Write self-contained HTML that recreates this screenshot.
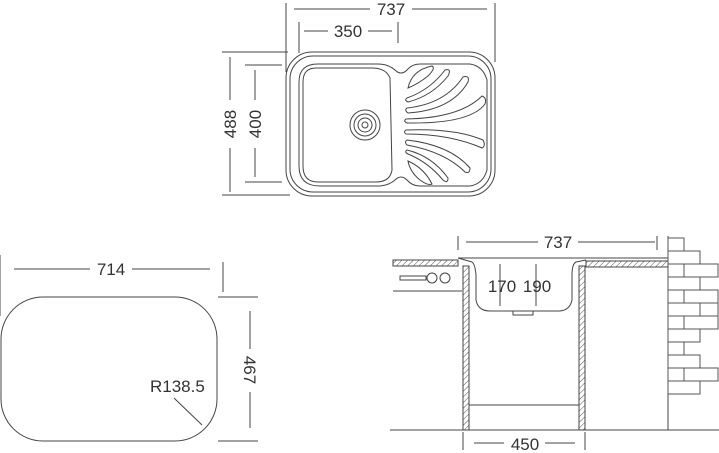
<!DOCTYPE html>
<html><head><style>
html,body{margin:0;padding:0;background:#fff}
svg{display:block}
text{font-family:"Liberation Sans",sans-serif;fill:#333;font-size:17px}
</style></head><body>
<svg width="719" height="453" viewBox="0 0 719 453" xmlns="http://www.w3.org/2000/svg" fill="none" stroke="#444" stroke-width="1">
<defs>
<pattern id="h" width="4" height="4" patternUnits="userSpaceOnUse" patternTransform="rotate(45)">
<line x1="0" y1="0" x2="0" y2="4" stroke="#555" stroke-width="1"/>
</pattern>
</defs>
<!-- TOP SINK -->
<line x1="286" y1="3" x2="286" y2="72"/><line x1="495" y1="3" x2="495" y2="62"/>
<line x1="294" y1="9" x2="370" y2="9"/><line x1="412" y1="9" x2="487" y2="9"/>
<text x="391" y="15" text-anchor="middle" stroke="none">737</text>
<line x1="299" y1="22" x2="299" y2="53"/><line x1="398" y1="22" x2="398" y2="43"/>
<line x1="304" y1="31" x2="328" y2="31"/><line x1="368" y1="31" x2="392" y2="31"/>
<text x="348" y="37" text-anchor="middle" stroke="none">350</text>
<line x1="222" y1="52" x2="288" y2="52"/><line x1="222" y1="195" x2="290" y2="195"/>
<line x1="230" y1="57" x2="230" y2="100"/><line x1="230" y1="148" x2="230" y2="192"/>
<text transform="translate(236,124) rotate(-90)" text-anchor="middle" stroke="none">488</text>
<line x1="245" y1="65" x2="282" y2="65"/><line x1="245" y1="182" x2="282" y2="182"/>
<line x1="255" y1="70" x2="255" y2="100"/><line x1="255" y1="148" x2="255" y2="177"/>
<text transform="translate(261,124) rotate(-90)" text-anchor="middle" stroke="none">400</text>
<rect x="286" y="52" width="209" height="144" rx="26"/>
<rect x="290" y="56" width="201" height="136" rx="23"/>
<path d="M318,64 H378 Q388,64 395,70 Q401,76 407,70 Q412,64 420,64 H470 Q483,66 487,80 V170 Q483,184 470,186 H420 Q412,186 407,180 Q401,174 395,180 Q388,186 378,186 H320 Q299,186 299,166 V82 Q299,64 318,64 Z"/>
<path d="M316,68 H372 Q386,68 390,78 L392,170 Q390,182 376,182 H318 Q303,182 303,166 V82 Q303,68 316,68 Z"/>
<circle cx="365" cy="125" r="15"/><circle cx="365" cy="125" r="11"/><circle cx="365" cy="125" r="7"/><circle cx="365" cy="125" r="3"/>
<!-- drainer ribs -->
<path d="M408,88 Q412,70 432,66 Q436,68 428,76 Q418,84 408,88Z"/>
<path d="M407,98 Q430,90 445,70 Q452,68 448,76 Q432,96 408,102 Q404,100 407,98Z"/>
<path d="M407,108 Q445,104 463,77 Q470,75 468,82 Q452,110 408,113 Q404,110 407,108Z"/>
<path d="M406,119 Q460,118 482,96 Q487,98 485,104 Q470,124 407,123 Q403,121 406,119Z"/>
<path d="M406,130 Q455,128 483,140 Q486,146 482,148 Q450,134 406,134 Q403,132 406,130Z"/>
<path d="M407,140 Q450,145 470,168 Q470,174 465,172 Q445,152 407,145 Q404,142 407,140Z"/>
<path d="M407,150 Q432,156 448,178 Q448,184 443,180 Q428,162 408,154 Q404,152 407,150Z"/>
<path d="M408,161 Q424,168 432,184 Q428,186 420,180 Q410,172 408,161Z"/>
<!-- BOTTOM LEFT -->
<line x1="0" y1="255" x2="0" y2="316"/><line x1="223" y1="262" x2="223" y2="292"/>
<line x1="14" y1="269" x2="90" y2="269"/><line x1="132" y1="269" x2="210" y2="269"/>
<text x="111" y="275" text-anchor="middle" stroke="none">714</text>
<rect x="1" y="297" width="216" height="144" rx="42"/>
<line x1="218" y1="297" x2="258" y2="297"/><line x1="218" y1="441" x2="258" y2="441"/>
<line x1="250" y1="311" x2="250" y2="349"/><line x1="250" y1="392" x2="250" y2="428"/>
<text transform="translate(244,370) rotate(90)" text-anchor="middle" stroke="none">467</text>
<text x="150" y="392" stroke="none">R138.5</text>
<line x1="174" y1="398" x2="202" y2="425"/>
<!-- BOTTOM RIGHT -->
<line x1="458" y1="236" x2="458" y2="250"/><line x1="657" y1="236" x2="657" y2="250"/>
<line x1="466" y1="242" x2="538" y2="242"/><line x1="578" y1="242" x2="655" y2="242"/>
<text x="558" y="248" text-anchor="middle" stroke="none">737</text>
<line x1="458" y1="258" x2="668" y2="258"/>
<rect x="393" y="260" width="65" height="6" fill="url(#h)"/>
<rect x="586" y="261" width="82" height="6" fill="url(#h)"/>
<line x1="393" y1="291" x2="462" y2="291"/>
<rect x="400" y="276" width="26" height="4"/>
<circle cx="432" cy="278" r="5"/><circle cx="445" cy="278" r="5"/>
<rect x="463" y="266" width="6" height="164" fill="url(#h)"/>
<rect x="579" y="266" width="6" height="164" fill="url(#h)"/>
<path d="M458,258 L472,262 Q475,264 476,275 L476,300 Q478,311 490,311 H560 Q570,310 572,300 V275 Q572,264 576,262 L586,260"/>
<rect x="513" y="311" width="20" height="4"/>
<line x1="500" y1="264" x2="500" y2="306"/><line x1="536" y1="264" x2="536" y2="306"/>
<text x="502" y="292" text-anchor="middle" stroke="none">170</text>
<text x="537" y="292" text-anchor="middle" stroke="none">190</text>
<line x1="469" y1="405" x2="579" y2="405"/>
<line x1="390" y1="430" x2="719" y2="430"/>
<line x1="668" y1="236" x2="668" y2="430"/>
<line x1="463" y1="432" x2="463" y2="450"/><line x1="585" y1="432" x2="585" y2="450"/>
<line x1="474" y1="443" x2="504" y2="443"/><line x1="545" y1="443" x2="575" y2="443"/>
<text x="525" y="450" text-anchor="middle" stroke="none">450</text>
<!-- bricks -->
<g stroke="#555">
<rect x="668" y="238" width="16" height="13"/>
<rect x="668" y="251" width="32" height="13"/>
<rect x="668" y="264" width="16" height="13"/><rect x="684" y="264" width="34" height="13"/>
<rect x="668" y="277" width="32" height="13"/>
<rect x="668" y="290" width="16" height="13"/><rect x="684" y="290" width="34" height="13"/>
<rect x="668" y="303" width="32" height="13"/><rect x="700" y="303" width="18" height="13"/>
<rect x="668" y="316" width="16" height="13"/><rect x="684" y="316" width="34" height="13"/>
<rect x="668" y="329" width="32" height="13"/>
<rect x="668" y="342" width="16" height="13"/>
<rect x="668" y="355" width="32" height="13"/>
<rect x="668" y="368" width="16" height="13"/><rect x="684" y="368" width="34" height="13"/>
<rect x="668" y="381" width="32" height="13"/>
</g>
</svg>
</body></html>
